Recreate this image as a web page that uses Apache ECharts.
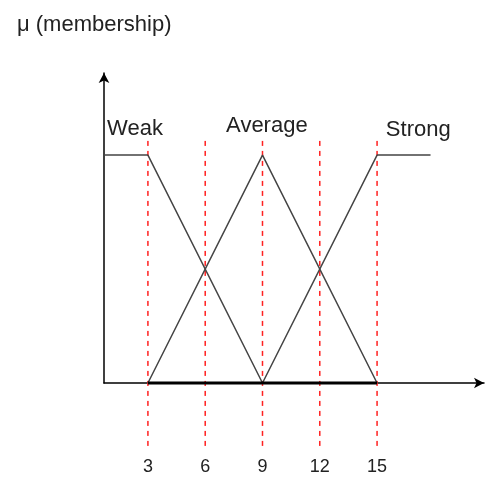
<!DOCTYPE html>
<html>
<head>
<meta charset="utf-8">
<script src="https://cdn.jsdelivr.net/npm/echarts@6/dist/echarts.min.js"></script>
<style>html,body{margin:0;padding:0;background:#fff;}#c{width:486px;height:479px;}</style>
</head>
<body>
<div id="c"></div>
<script>
const xTicks = [3, 6, 9, 12, 15];
const setNames = ['Weak', 'Average', 'Strong'];
const weak = [[0.7, 1], [3, 1], [9, 0]];
const average = [[3, 0], [9, 1], [15, 0]];
const strong = [[9, 0], [15, 1], [17.8, 1]];
const base = [[3, 0], [15, 0]];
const labelPos = [[0.86, 1.114], [9.23, 1.127], [15.46, 1.11]];
const labelAlign = ['left', 'center', 'left'];
const guideRange = [-0.276, 1.075];

const chart = echarts.init(document.getElementById('c'), null, {renderer: 'canvas'});
const fnt = 'Liberation Sans, Arial, sans-serif';
const setLine = {color: '#444', width: 1.5};

function mp(i) {
  return {
    symbol: 'rect', symbolSize: 1, itemStyle: {color: 'transparent'},
    data: [{coord: labelPos[i], value: setNames[i],
      label: {show: true, position: 'inside', align: labelAlign[i], verticalAlign: 'middle',
        formatter: setNames[i], fontSize: 22, fontFamily: fnt, color: '#222'}}]
  };
}

const guideSeries = xTicks.map(v => ({
  type: 'line', data: [[v, guideRange[0]], [v, guideRange[1]]], symbol: 'none', clip: false, silent: true,
  lineStyle: {color: '#ff2020', type: [5, 5], width: 1.5}, z: 1
}));

chart.setOption({
  animation: false,
  title: {text: 'μ (membership)', left: 12, top: 9,
    textStyle: {fontSize: 22, fontWeight: 'normal', fontFamily: fnt, color: '#222'}},
  grid: {left: 104, right: 2, top: 73, bottom: 96, containLabel: false},
  xAxis: {
    type: 'value', min: 0.7, max: 20.6,
    axisLine: {show: true, onZero: false, symbol: ['none', 'arrow'], symbolSize: [8, 10],
      lineStyle: {color: '#000', width: 1.5}},
    axisTick: {show: false},
    splitLine: {show: false},
    axisLabel: {show: true, customValues: xTicks, margin: 75, fontSize: 18, fontFamily: fnt, color: '#222'}
  },
  yAxis: {
    type: 'value', min: 0, max: 1.36,
    axisLine: {show: true, symbol: ['none', 'arrow'], symbolSize: [8, 10],
      lineStyle: {color: '#000', width: 1.5}},
    axisTick: {show: false}, splitLine: {show: false}, axisLabel: {show: false}
  },
  series: guideSeries.concat([
    {type: 'line', data: base, symbol: 'none', lineStyle: {color: '#000', width: 3}, clip: false, z: 3},
    {type: 'line', name: setNames[0], data: weak, symbol: 'none', lineStyle: setLine, clip: false, z: 2, markPoint: mp(0)},
    {type: 'line', name: setNames[1], data: average, symbol: 'none', lineStyle: setLine, clip: false, z: 2, markPoint: mp(1)},
    {type: 'line', name: setNames[2], data: strong, symbol: 'none', lineStyle: setLine, clip: false, z: 2, markPoint: mp(2)}
  ])
});
</script>
</body>
</html>
